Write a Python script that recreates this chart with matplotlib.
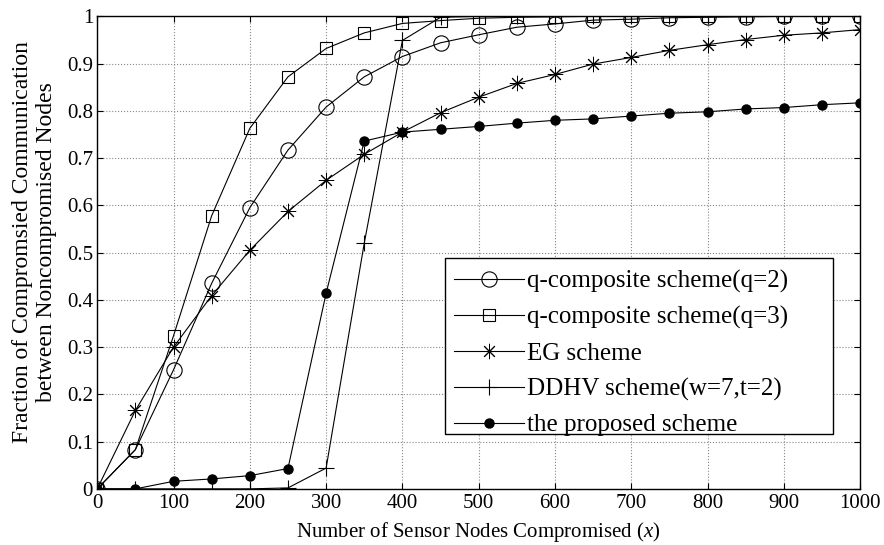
import numpy as np
import matplotlib.pyplot as plt
from matplotlib.patches import Rectangle

plt.rcParams['font.family'] = ['Liberation Serif', 'DejaVu Serif']
plt.rcParams['mathtext.fontset'] = 'custom'
plt.rcParams['mathtext.it'] = 'Liberation Serif:italic'
plt.rcParams['mathtext.rm'] = 'Liberation Serif'

# number of compromised nodes
x = np.arange(0, 1001, 50)

q2 = [0, 0.083, 0.252, 0.435, 0.595, 0.717, 0.808, 0.872, 0.915, 0.944, 0.961,
      0.977, 0.984, 0.992, 0.994, 0.997, 0.998, 0.999, 1.0, 1.0, 1.0]
q3 = [0, 0.083, 0.324, 0.578, 0.763, 0.872, 0.932, 0.965, 0.985, 0.991, 0.996,
      0.998, 0.999, 1.0, 1.0, 1.0, 1.0, 1.0, 1.0, 1.0, 1.0]
eg = [0, 0.166, 0.300, 0.409, 0.505, 0.587, 0.653, 0.708, 0.755, 0.796, 0.829,
      0.858, 0.877, 0.899, 0.913, 0.928, 0.940, 0.951, 0.960, 0.965, 0.972]
ddhv = [0, 0, 0, 0, 0, 0.002, 0.044, 0.52, 0.949, 0.998, 1.0,
        1.0, 1.0, 1.0, 1.0, 1.0, 1.0, 1.0, 1.0, 1.0, 1.0]
proposed = [0, 0, 0.016, 0.021, 0.028, 0.043, 0.414, 0.736, 0.755, 0.761, 0.767,
            0.774, 0.780, 0.783, 0.789, 0.795, 0.798, 0.804, 0.807, 0.813, 0.817]

fig = plt.figure(figsize=(8.84, 5.45), dpi=100)
ax = fig.add_axes([0.110, 0.103, 0.863, 0.867])

lw = 0.8
ax.plot(x, q2, '-', color='k', lw=lw, marker='o', ms=11, mfc='none', mec='k', mew=0.8,
        label='q-composite scheme(q=2)')
ax.plot(x, q3, '-', color='k', lw=lw, marker='s', ms=8.5, mfc='none', mec='k', mew=0.8,
        label='q-composite scheme(q=3)')
ax.plot(x, eg, '-', color='k', lw=lw, marker=(8, 2, 0), ms=11, mec='k', mew=0.7,
        label='EG scheme')
ax.plot(x, ddhv, '-', color='k', lw=lw, marker='+', ms=11, mec='k', mew=0.8,
        label='DDHV scheme(w=7,t=2)')
ax.plot(x, proposed, '-', color='k', lw=lw, marker='o', ms=6.5, mfc='k', mec='k',
        label='the proposed scheme')

ax.set_xlim(0, 1000)
ax.set_ylim(0, 1)
ax.set_xticks(np.arange(0, 1001, 100))
ax.set_yticks(np.arange(0, 1.01, 0.1))
ax.set_yticklabels(['0', '0.1', '0.2', '0.3', '0.4', '0.5', '0.6', '0.7', '0.8', '0.9', '1'])
ax.tick_params(direction='in', top=True, right=True, labelsize=15, length=4, width=0.8)
ax.tick_params(axis='x', pad=4)
ax.tick_params(axis='y', pad=3)
ax.grid(True, color='#888888', linestyle=':', linewidth=0.8)
for s in ax.spines.values():
    s.set_linewidth(1.0)

ax.set_xlabel('Number of Sensor Nodes Compromised ($x$)', fontsize=15, labelpad=5)
ax.set_ylabel('Fraction of Compromsied Communication\nbetween Noncompromised Nodes',
              fontsize=17, linespacing=1.15)
ax.yaxis.set_label_coords(-0.053, 0.522)

# legend box (wider than the entries, with room on the right)
box = Rectangle((0.456, 0.1163), 0.5086, 0.3721, transform=ax.transAxes,
                facecolor='white', edgecolor='k', linewidth=1.0, zorder=4)
ax.add_patch(box)
leg = ax.legend(loc='upper left', bbox_to_anchor=(0.458, 0.479), fontsize=18,
                frameon=False, handlelength=2.8, handletextpad=0.1,
                borderpad=0.3, labelspacing=0.52, borderaxespad=0)
leg.set_zorder(5)

fig.savefig('out.png', dpi=100)
